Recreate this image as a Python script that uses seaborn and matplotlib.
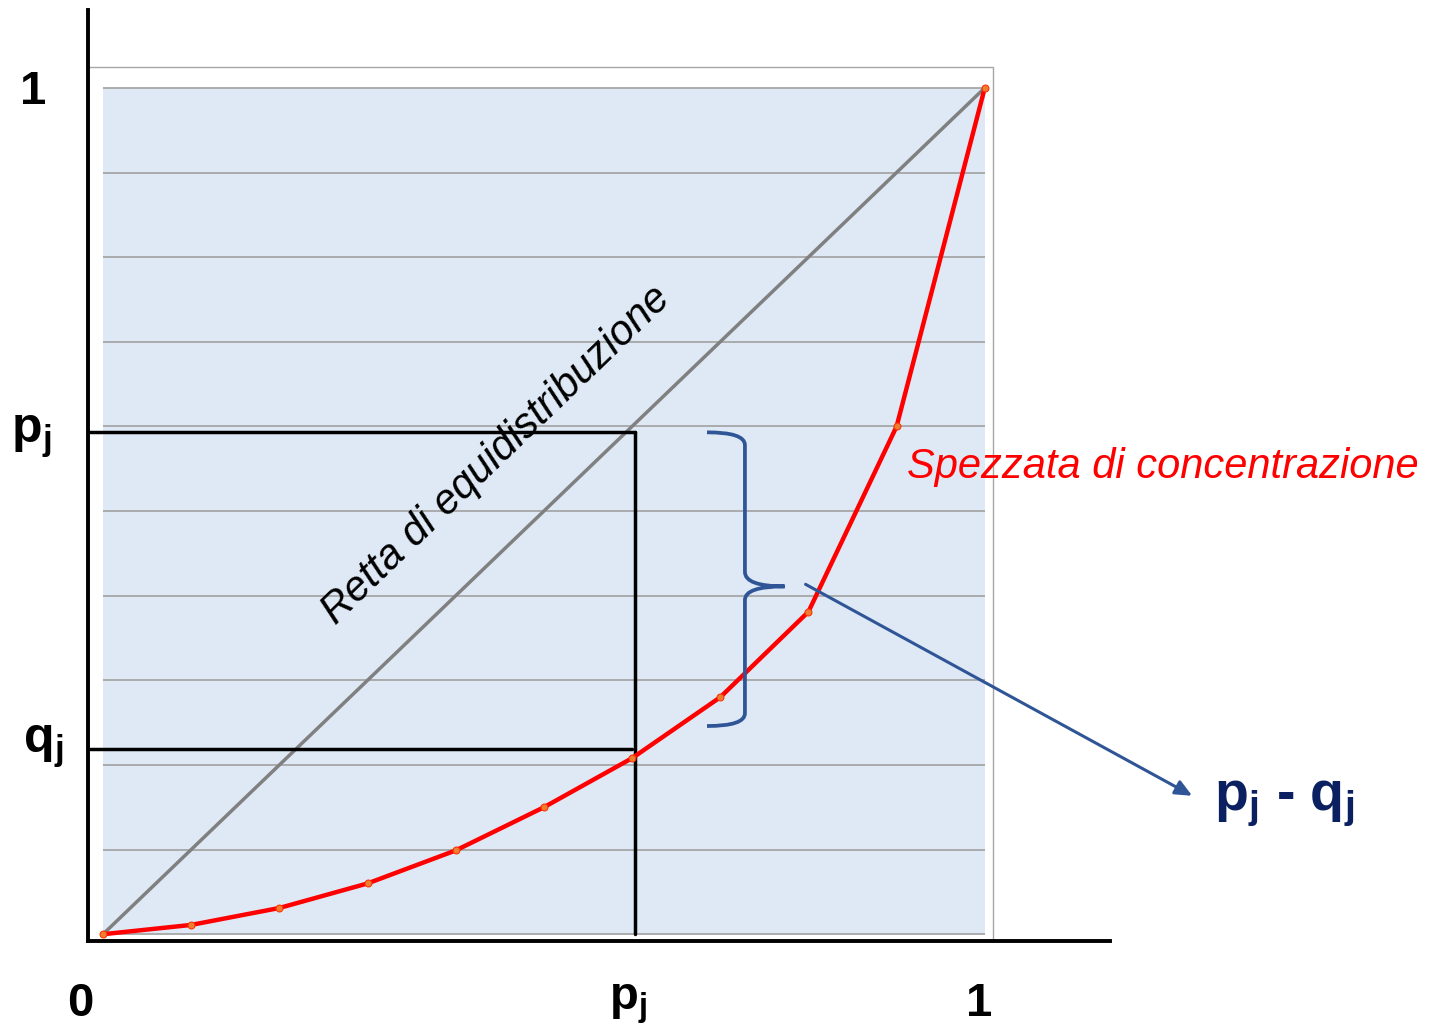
import matplotlib.pyplot as plt
import seaborn as sns
import numpy as np
import pandas as pd
from matplotlib.path import Path
from matplotlib.patches import PathPatch, Rectangle

# cumulative shares (Lorenz curve)
p_vals = [0.0, 0.1, 0.2, 0.3, 0.4, 0.5, 0.6, 0.7, 0.8, 0.9, 1.0]
q_vals = [0.0, 0.011, 0.031, 0.060, 0.099, 0.150, 0.208, 0.280, 0.381, 0.600, 1.0]
grid_levels = [0.1 * k for k in range(11)]

pj_x = 0.603
pj_y = 0.593
qj_y = 0.219

sns.set_style('white')
plt.rcParams['font.family'] = ['Liberation Sans', 'DejaVu Sans']
plt.rcParams['text.color'] = 'black'
plt.rcParams['mathtext.fontset'] = 'custom'
plt.rcParams['mathtext.rm'] = 'Liberation Sans'
plt.rcParams['mathtext.it'] = 'Liberation Sans:italic'
plt.rcParams['mathtext.bf'] = 'Liberation Sans:bold'

fig = plt.figure(figsize=(14.43, 10.26), dpi=100)
ax = fig.add_axes([88 / 1443, 85 / 1026, (1110 - 88) / 1443, (941 - 10) / 1026])
ax.set_xlim(-0.017, 1.142)
ax.set_ylim(-0.008, 1.092)
ax.set_facecolor('white')
for s in ['top', 'right']:
    ax.spines[s].set_visible(False)
for s in ['left', 'bottom']:
    ax.spines[s].set_color('black')
    ax.spines[s].set_linewidth(2.8)
ax.set_xticks([])
ax.set_yticks([])

# chart frame and plot area
ax.add_patch(Rectangle((-0.017, -0.008), 1.026, 1.033, facecolor='white',
                       edgecolor='#a6a6a6', lw=1, zorder=0))
ax.add_patch(Rectangle((0, 0), 1, 1, facecolor='#dee9f5', edgecolor='none', zorder=0.5))
ax.hlines(grid_levels, 0, 1, color='#a0a0a0', lw=1.2, zorder=1)

df = pd.DataFrame({'p': p_vals, 'q': q_vals})
sns.lineplot(x=[0, 1], y=[0, 1], color='#808080', lw=2.5, ax=ax, zorder=2)
sns.lineplot(data=df, x='p', y='q', color='red', lw=3.2, marker='o', markersize=5,
             markerfacecolor='#ed7d31', markeredgecolor='#ff3000', ax=ax, zorder=4)
ax.set_xlabel('')
ax.set_ylabel('')

# reference lines
ax.plot([-0.015, pj_x], [pj_y, pj_y], color='black', lw=2.5, zorder=3)
ax.plot([pj_x, pj_x], [pj_y, 0], color='black', lw=2.5, zorder=3)
ax.plot([-0.015, pj_x - 0.003], [qj_y, qj_y], color='black', lw=2.5, zorder=3)

# brace
bx0, bx1, bx2 = 0.685, 0.728, 0.773
verts = [(bx0, 0.593), (bx1, 0.593), (bx1, 0.578),
         (bx1, 0.428),
         (bx1, 0.411), (bx2, 0.411),
         (bx1, 0.411), (bx1, 0.395),
         (bx1, 0.261),
         (bx1, 0.246), (bx0, 0.246)]
codes = [Path.MOVETO, Path.CURVE3, Path.CURVE3, Path.LINETO,
         Path.CURVE3, Path.CURVE3, Path.CURVE3, Path.CURVE3,
         Path.LINETO, Path.CURVE3, Path.CURVE3]
ax.add_patch(PathPatch(Path(verts, codes), facecolor='none', edgecolor='#2f5597',
                       lw=2.7, zorder=5))

ax.annotate('', xy=(1.238, 0.162), xytext=(0.794, 0.415), annotation_clip=False,
            arrowprops=dict(arrowstyle='-|>,head_length=1.0,head_width=0.45',
                            color='#2f5597', lw=2.2), zorder=5)

# labels
lab = dict(fontsize=34, fontweight='bold', ha='center', va='center', clip_on=False)
ax.text(-0.079, 0.995, '1', **lab)
ax.text(-0.081, 0.587, r'p$_{\mathbf{j}}$', fontsize=36, fontweight='bold',
        ha='center', va='center', clip_on=False)
ax.text(-0.068, 0.221, r'q$_{\mathbf{j}}$', fontsize=36, fontweight='bold',
        ha='center', va='center', clip_on=False)
ax.text(-0.026, -0.082, '0', **lab)
ax.text(0.595, -0.082, r'p$_{\mathbf{j}}$', **lab)
ax.text(0.994, -0.083, '1', **lab)
ax.text(1.340, 0.155, r'p$_{\mathbf{j}}$ - q$_{\mathbf{j}}$', color='#0b2060',
        fontsize=40, fontweight='bold', ha='center', va='center', clip_on=False)
ax.text(1.202, 0.552, 'Spezzata di concentrazione', color='red', fontsize=30,
        style='italic', ha='center', va='center', clip_on=False)
ax.text(0.446, 0.566, 'Retta di equidistribuzione', color='black', fontsize=30,
        style='italic', rotation=44, ha='center', va='center', rotation_mode='anchor', zorder=6)

fig.savefig('out.png', dpi=100)
